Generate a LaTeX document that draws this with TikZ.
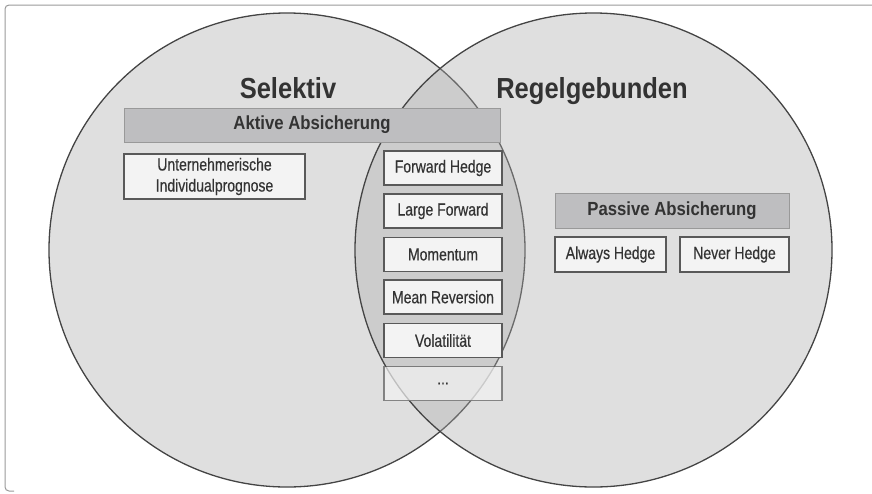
\documentclass[tikz,border=0pt]{standalone}
\usepackage{fontspec}
\setmainfont{Liberation Sans}[FakeStretch=0.88]
\newfontfamily\narrowfont{Liberation Sans}[FakeStretch=0.8, FakeBold=0.4]
\usepackage{tikz}

\definecolor{textgray}{HTML}{333333}
\definecolor{edgegray}{HTML}{444444}
\definecolor{bargray}{HTML}{BEBEC0}
\definecolor{boxwhite}{HTML}{F3F3F3}

\tikzset{
    setcircle/.style={fill=black!33, fill opacity=0.375, draw=edgegray, line width=1.3pt},
    groupbar/.style={fill=bargray, draw=black!40, line width=1pt, inner sep=0pt,
        text=textgray, font=\fontsize{19}{20}\selectfont\bfseries},
    itembox/.style={fill=boxwhite, draw=black!65, line width=1.1pt, inner sep=0pt,
        text=textgray, font=\narrowfont\fontsize{17.5}{21}\selectfont, align=center},
    settitle/.style={text=textgray, font=\fontsize{29}{30}\selectfont\bfseries, anchor=base}
}

\begin{document}
\begin{tikzpicture}[x=1pt, y=-1pt]
            % Size of the picture (y runs downwards)
            \useasboundingbox (0,0) rectangle (872,493);

            % Outer frame
            \draw[black!40, line width=1pt, rounded corners=4pt] (880,5) -- (5,5) -- (5,491) -- (14,491);

            % The two sets
            \def\ry{237}
            \draw[setcircle] (287,250) ellipse [x radius=238, y radius=\ry];
            \draw[setcircle] (593.5,250) ellipse [x radius=238.5, y radius=\ry];

            % Set titles
            \node[settitle] (selektiv) at (288,98) {Selektiv};
            \node[settitle] (regel) at (592,98) {Regelgebunden};

            % Active hedging
            \node[groupbar, minimum width=376, minimum height=34] (aktiv) at (312,125) {Aktive Absicherung};
            \node[itembox, minimum width=181, minimum height=45] (prognose) at (214.5,176.5) {Unternehmerische\\Individualprognose};

            % Rule based strategies in the overlap
            \def\colx{443}
            \node[itembox, minimum width=118, minimum height=34] (fwdhedge) at (\colx,168) {Forward\ Hedge};
            \node[itembox, minimum width=118, minimum height=34] (largefwd) at (\colx,211) {Large Forward};
            \node[itembox, minimum width=118, minimum height=34] (momentum) at (\colx,254.5) {Momentum};
            \node[itembox, minimum width=118, minimum height=34] (meanrev) at (\colx,297) {Mean Reversion};
            \node[itembox, minimum width=118, minimum height=34] (vola) at (\colx,340.5) {Volatilität};
            \node[itembox, minimum width=118, minimum height=34, fill opacity=0.7, draw opacity=0.7, text opacity=1] (more) at (\colx,383.5) {...};

            % Passive hedging
            \node[groupbar, minimum width=234, minimum height=35] (passiv) at (672,210.5) {Passive Absicherung};
            \node[itembox, minimum width=111, minimum height=35] (always) at (610.5,254.5) {Always Hedge};
            \node[itembox, minimum width=109, minimum height=35] (never) at (734.5,254.5) {Never Hedge};
\end{tikzpicture}
\end{document}
